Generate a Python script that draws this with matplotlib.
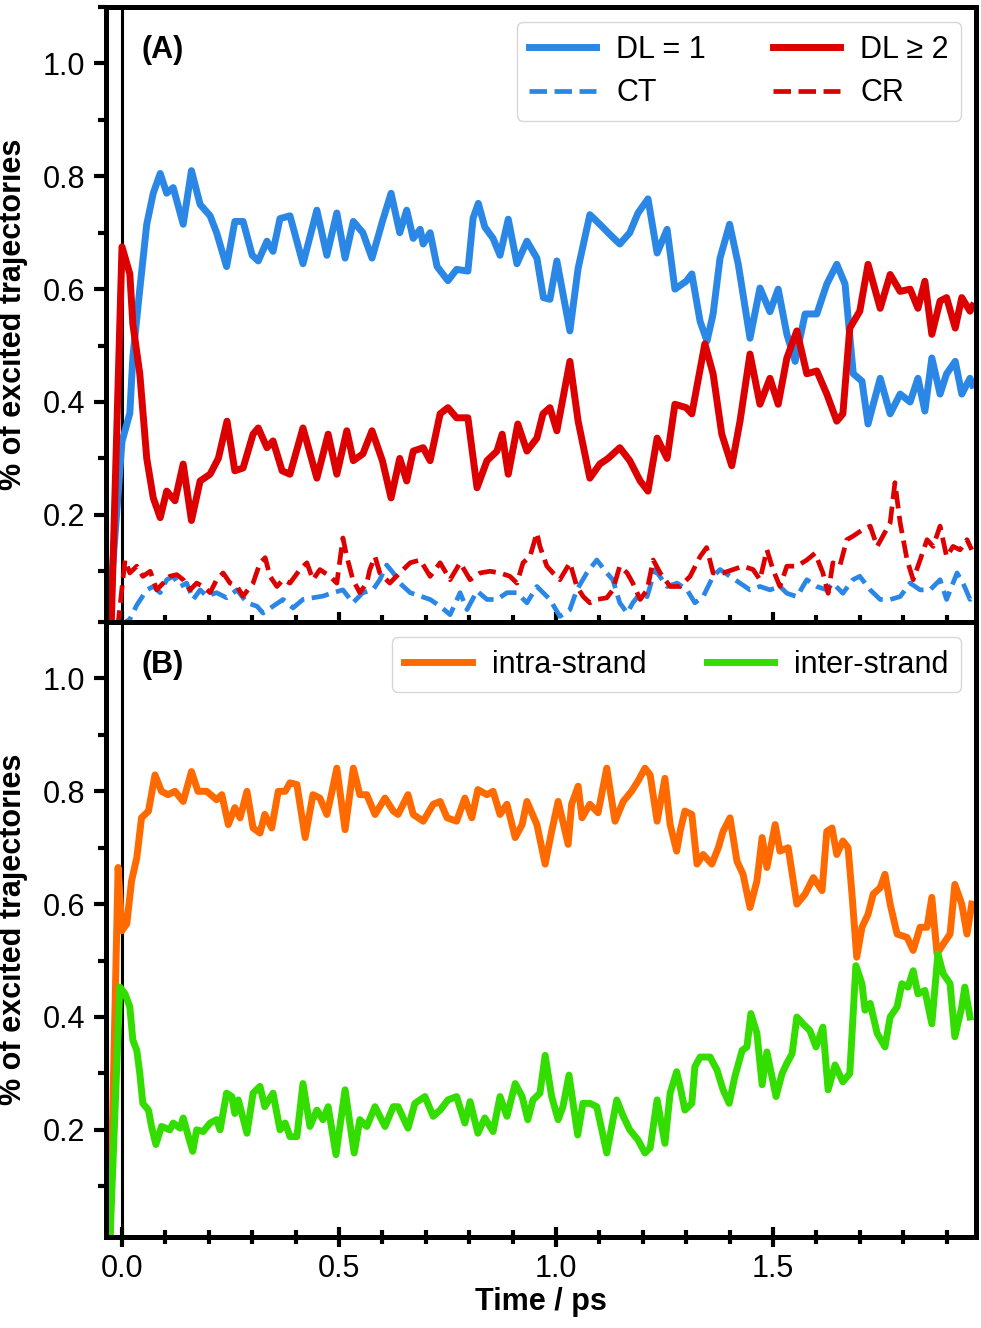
import numpy as np
import matplotlib
matplotlib.use("Agg")
import matplotlib.pyplot as plt
from matplotlib.ticker import MultipleLocator

# (time / ps, fraction)
dl1_pts = [(-0.032, 0.0), (0.0, 0.33), (0.018, 0.38), (0.025, 0.48), (0.041, 0.60), (0.057, 0.715),
           (0.072, 0.77), (0.088, 0.805), (0.103, 0.77), (0.118, 0.78), (0.141, 0.715), (0.16, 0.81),
           (0.18, 0.75), (0.203, 0.73), (0.218, 0.70), (0.241, 0.64), (0.26, 0.72), (0.279, 0.72),
           (0.30, 0.66), (0.314, 0.65), (0.334, 0.685), (0.348, 0.667), (0.364, 0.725), (0.387, 0.73),
           (0.417, 0.645), (0.449, 0.74), (0.472, 0.66), (0.495, 0.735), (0.514, 0.655), (0.533, 0.72),
           (0.555, 0.70), (0.576, 0.655), (0.60, 0.72), (0.62, 0.77), (0.64, 0.70), (0.656, 0.74),
           (0.671, 0.69), (0.687, 0.706), (0.694, 0.68), (0.71, 0.70), (0.726, 0.64), (0.751, 0.615),
           (0.771, 0.635), (0.797, 0.632), (0.809, 0.726), (0.821, 0.752), (0.836, 0.71), (0.855, 0.69),
           (0.871, 0.66), (0.89, 0.724), (0.91, 0.645), (0.933, 0.685), (0.956, 0.655), (0.971, 0.585),
           (0.986, 0.582), (1.002, 0.65), (1.032, 0.526), (1.051, 0.637), (1.078, 0.732), (1.101, 0.715),
           (1.124, 0.697), (1.147, 0.68), (1.17, 0.70), (1.189, 0.735), (1.212, 0.76), (1.233, 0.664),
           (1.256, 0.706), (1.274, 0.60), (1.30, 0.614), (1.313, 0.627), (1.332, 0.543), (1.348, 0.508),
           (1.362, 0.556), (1.378, 0.655), (1.40, 0.715), (1.42, 0.644), (1.447, 0.513), (1.47, 0.602),
           (1.493, 0.56), (1.512, 0.60), (1.532, 0.52), (1.551, 0.472), (1.574, 0.556), (1.601, 0.556),
           (1.624, 0.609), (1.647, 0.644), (1.666, 0.609), (1.685, 0.45), (1.705, 0.437), (1.719, 0.361),
           (1.747, 0.442), (1.77, 0.379), (1.793, 0.414), (1.816, 0.40), (1.834, 0.442), (1.85, 0.384),
           (1.866, 0.478), (1.885, 0.414), (1.90, 0.45), (1.92, 0.472), (1.935, 0.414), (1.954, 0.442),
           (1.96, 0.43)]

dl2_pts = [(-0.025, 0.0), (0.0, 0.675), (0.018, 0.627), (0.025, 0.538), (0.041, 0.45), (0.057, 0.30),
           (0.072, 0.23), (0.088, 0.195), (0.103, 0.242), (0.122, 0.225), (0.141, 0.29), (0.16, 0.19),
           (0.18, 0.26), (0.203, 0.272), (0.222, 0.30), (0.242, 0.366), (0.26, 0.278), (0.279, 0.283),
           (0.302, 0.343), (0.314, 0.354), (0.334, 0.319), (0.348, 0.331), (0.369, 0.278), (0.387, 0.272),
           (0.417, 0.354), (0.449, 0.265), (0.475, 0.343), (0.495, 0.272), (0.518, 0.349), (0.533, 0.296),
           (0.555, 0.308), (0.576, 0.349), (0.60, 0.296), (0.62, 0.23), (0.64, 0.30), (0.656, 0.26),
           (0.671, 0.313), (0.694, 0.319), (0.71, 0.296), (0.733, 0.379), (0.751, 0.39), (0.771, 0.372),
           (0.797, 0.372), (0.818, 0.248), (0.841, 0.296), (0.864, 0.313), (0.876, 0.343), (0.89, 0.272),
           (0.912, 0.361), (0.933, 0.313), (0.956, 0.336), (0.97, 0.379), (0.986, 0.39), (1.002, 0.349),
           (1.032, 0.472), (1.051, 0.366), (1.078, 0.265), (1.101, 0.29), (1.12, 0.30), (1.147, 0.319),
           (1.17, 0.296), (1.194, 0.26), (1.212, 0.242), (1.233, 0.336), (1.256, 0.30), (1.274, 0.396),
           (1.30, 0.39), (1.313, 0.379), (1.343, 0.503), (1.362, 0.45), (1.382, 0.343), (1.405, 0.287),
           (1.424, 0.366), (1.447, 0.485), (1.47, 0.396), (1.493, 0.442), (1.512, 0.396), (1.532, 0.478),
           (1.555, 0.526), (1.578, 0.45), (1.601, 0.455), (1.624, 0.414), (1.647, 0.366), (1.661, 0.379),
           (1.677, 0.531), (1.70, 0.561), (1.719, 0.644), (1.747, 0.566), (1.77, 0.626), (1.793, 0.596),
           (1.816, 0.60), (1.834, 0.566), (1.85, 0.614), (1.866, 0.52), (1.885, 0.579), (1.90, 0.585),
           (1.92, 0.531), (1.935, 0.585), (1.954, 0.561), (1.96, 0.57)]

ct_pts = [(-0.01, 0.0), (0.018, 0.015), (0.034, 0.04), (0.057, 0.067), (0.072, 0.073), (0.088, 0.062),
          (0.103, 0.085), (0.118, 0.091), (0.134, 0.073), (0.149, 0.079), (0.164, 0.05), (0.18, 0.067),
          (0.195, 0.056), (0.218, 0.062), (0.241, 0.053), (0.265, 0.067), (0.288, 0.044), (0.311, 0.038),
          (0.325, 0.026), (0.348, 0.038), (0.371, 0.05), (0.394, 0.035), (0.417, 0.05), (0.44, 0.053),
          (0.463, 0.056), (0.486, 0.062), (0.509, 0.067), (0.532, 0.044), (0.555, 0.062), (0.578, 0.067),
          (0.594, 0.085), (0.61, 0.111), (0.625, 0.097), (0.64, 0.079), (0.664, 0.062), (0.687, 0.056),
          (0.71, 0.05), (0.733, 0.038), (0.756, 0.023), (0.779, 0.062), (0.795, 0.032), (0.818, 0.065),
          (0.841, 0.05), (0.864, 0.05), (0.887, 0.062), (0.91, 0.062), (0.933, 0.044), (0.956, 0.073),
          (0.986, 0.05), (1.009, 0.02), (1.032, 0.032), (1.048, 0.067), (1.071, 0.097), (1.094, 0.12),
          (1.117, 0.097), (1.131, 0.085), (1.147, 0.044), (1.164, 0.026), (1.177, 0.044), (1.194, 0.061),
          (1.21, 0.055), (1.228, 0.103), (1.256, 0.073), (1.279, 0.079), (1.302, 0.067), (1.32, 0.044),
          (1.339, 0.055), (1.362, 0.091), (1.378, 0.103), (1.401, 0.091), (1.424, 0.079), (1.447, 0.067),
          (1.47, 0.073), (1.493, 0.067), (1.516, 0.073), (1.532, 0.061), (1.555, 0.055), (1.578, 0.085),
          (1.601, 0.073), (1.624, 0.067), (1.638, 0.079), (1.661, 0.061), (1.684, 0.085), (1.70, 0.091),
          (1.724, 0.067), (1.747, 0.05), (1.77, 0.05), (1.793, 0.055), (1.816, 0.079), (1.839, 0.067),
          (1.862, 0.067), (1.885, 0.085), (1.90, 0.05), (1.924, 0.097), (1.938, 0.079), (1.954, 0.05),
          (1.96, 0.06)]

cr_pts = [(-0.01, 0.0), (0.007, 0.12), (0.018, 0.097), (0.034, 0.109), (0.048, 0.091), (0.065, 0.1),
          (0.08, 0.067), (0.095, 0.079), (0.11, 0.091), (0.126, 0.094), (0.141, 0.085), (0.157, 0.067),
          (0.172, 0.079), (0.187, 0.073), (0.203, 0.062), (0.218, 0.085), (0.233, 0.097), (0.249, 0.079),
          (0.265, 0.073), (0.279, 0.056), (0.302, 0.079), (0.318, 0.115), (0.33, 0.124), (0.341, 0.091),
          (0.357, 0.073), (0.371, 0.085), (0.387, 0.079), (0.41, 0.103), (0.426, 0.115), (0.44, 0.085),
          (0.456, 0.103), (0.479, 0.091), (0.495, 0.079), (0.509, 0.159), (0.518, 0.126), (0.532, 0.085),
          (0.548, 0.062), (0.564, 0.079), (0.571, 0.103), (0.583, 0.126), (0.594, 0.097), (0.617, 0.079),
          (0.64, 0.097), (0.664, 0.115), (0.687, 0.12), (0.71, 0.091), (0.733, 0.115), (0.756, 0.085),
          (0.779, 0.115), (0.802, 0.085), (0.825, 0.097), (0.848, 0.1), (0.871, 0.097), (0.894, 0.091),
          (0.91, 0.079), (0.924, 0.115), (0.94, 0.126), (0.956, 0.168), (0.963, 0.144), (0.979, 0.109),
          (0.993, 0.097), (1.009, 0.085), (1.032, 0.115), (1.048, 0.073), (1.063, 0.055), (1.078, 0.044),
          (1.094, 0.05), (1.117, 0.053), (1.131, 0.067), (1.147, 0.109), (1.164, 0.097), (1.177, 0.079),
          (1.194, 0.05), (1.21, 0.067), (1.224, 0.12), (1.24, 0.097), (1.263, 0.073), (1.286, 0.073),
          (1.309, 0.091), (1.332, 0.126), (1.347, 0.142), (1.362, 0.097), (1.385, 0.097), (1.408, 0.103),
          (1.431, 0.109), (1.454, 0.103), (1.47, 0.085), (1.486, 0.138), (1.50, 0.103), (1.516, 0.073),
          (1.532, 0.109), (1.555, 0.109), (1.578, 0.12), (1.597, 0.132), (1.615, 0.097), (1.627, 0.061),
          (1.638, 0.115), (1.654, 0.109), (1.67, 0.156), (1.684, 0.162), (1.707, 0.174), (1.724, 0.18),
          (1.74, 0.144), (1.753, 0.162), (1.77, 0.186), (1.781, 0.257), (1.793, 0.186), (1.809, 0.12),
          (1.823, 0.085), (1.839, 0.12), (1.855, 0.156), (1.869, 0.144), (1.885, 0.18), (1.90, 0.126),
          (1.915, 0.144), (1.931, 0.138), (1.947, 0.156), (1.958, 0.138)]

intra_pts = [(-0.028, 0.0), (-0.009, 0.665), (0.0, 0.553), (0.011, 0.565), (0.022, 0.641), (0.034, 0.682),
             (0.045, 0.753), (0.061, 0.765), (0.076, 0.829), (0.091, 0.8), (0.106, 0.794), (0.122, 0.8),
             (0.141, 0.782), (0.16, 0.835), (0.175, 0.8), (0.195, 0.8), (0.218, 0.785), (0.23, 0.794),
             (0.245, 0.741), (0.26, 0.771), (0.272, 0.753), (0.288, 0.8), (0.302, 0.735), (0.318, 0.726),
             (0.329, 0.759), (0.345, 0.735), (0.36, 0.8), (0.376, 0.8), (0.387, 0.815), (0.403, 0.812),
             (0.422, 0.718), (0.44, 0.794), (0.456, 0.788), (0.472, 0.759), (0.484, 0.8), (0.495, 0.841),
             (0.514, 0.732), (0.533, 0.841), (0.548, 0.794), (0.564, 0.794), (0.583, 0.759), (0.606, 0.788),
             (0.625, 0.765), (0.636, 0.759), (0.659, 0.794), (0.671, 0.759), (0.694, 0.747), (0.717, 0.777),
             (0.733, 0.782), (0.749, 0.753), (0.771, 0.747), (0.79, 0.788), (0.806, 0.753), (0.82, 0.803),
             (0.841, 0.794), (0.855, 0.8), (0.871, 0.759), (0.887, 0.777), (0.906, 0.718), (0.922, 0.741),
             (0.933, 0.782), (0.956, 0.741), (0.975, 0.671), (0.99, 0.729), (1.005, 0.782), (1.028, 0.706),
             (1.036, 0.777), (1.051, 0.809), (1.06, 0.753), (1.078, 0.777), (1.097, 0.762), (1.117, 0.841),
             (1.136, 0.747), (1.155, 0.782), (1.174, 0.8), (1.189, 0.818), (1.205, 0.841), (1.217, 0.829),
             (1.233, 0.747), (1.251, 0.823), (1.263, 0.741), (1.278, 0.694), (1.286, 0.729), (1.297, 0.765),
             (1.313, 0.759), (1.325, 0.671), (1.339, 0.688), (1.359, 0.671), (1.374, 0.70), (1.385, 0.729),
             (1.401, 0.753), (1.417, 0.676), (1.431, 0.653), (1.447, 0.594), (1.463, 0.641), (1.475, 0.718),
             (1.486, 0.665), (1.505, 0.741), (1.516, 0.694), (1.535, 0.70), (1.555, 0.60), (1.574, 0.618),
             (1.593, 0.647), (1.613, 0.624), (1.624, 0.729), (1.636, 0.735), (1.647, 0.688), (1.661, 0.712),
             (1.673, 0.70), (1.682, 0.618), (1.693, 0.506), (1.705, 0.559), (1.719, 0.582), (1.731, 0.618),
             (1.747, 0.629), (1.758, 0.653), (1.77, 0.60), (1.786, 0.547), (1.809, 0.541), (1.823, 0.518),
             (1.839, 0.559), (1.855, 0.559), (1.866, 0.612), (1.878, 0.512), (1.892, 0.529), (1.908, 0.547),
             (1.919, 0.635), (1.935, 0.60), (1.947, 0.547), (1.958, 0.60)]

inter_pts = [(-0.028, 0.0), (-0.005, 0.453), (0.007, 0.441), (0.018, 0.418), (0.025, 0.359), (0.034, 0.341),
             (0.041, 0.30), (0.048, 0.247), (0.061, 0.235), (0.068, 0.206), (0.078, 0.174), (0.091, 0.206),
             (0.11, 0.20), (0.118, 0.212), (0.134, 0.203), (0.141, 0.221), (0.153, 0.188), (0.163, 0.162),
             (0.172, 0.20), (0.187, 0.197), (0.203, 0.212), (0.218, 0.218), (0.226, 0.20), (0.241, 0.265),
             (0.253, 0.259), (0.26, 0.229), (0.268, 0.253), (0.288, 0.194), (0.302, 0.265), (0.318, 0.277),
             (0.329, 0.241), (0.348, 0.265), (0.364, 0.20), (0.376, 0.212), (0.387, 0.188), (0.403, 0.188),
             (0.417, 0.282), (0.433, 0.206), (0.449, 0.235), (0.463, 0.218), (0.475, 0.241), (0.493, 0.156),
             (0.514, 0.271), (0.535, 0.159), (0.548, 0.218), (0.564, 0.206), (0.583, 0.241), (0.606, 0.206),
             (0.625, 0.241), (0.636, 0.241), (0.659, 0.203), (0.675, 0.247), (0.698, 0.259), (0.717, 0.224),
             (0.733, 0.235), (0.751, 0.253), (0.771, 0.259), (0.79, 0.212), (0.802, 0.25), (0.82, 0.194),
             (0.836, 0.221), (0.855, 0.197), (0.871, 0.259), (0.887, 0.224), (0.906, 0.282), (0.922, 0.259),
             (0.935, 0.218), (0.947, 0.253), (0.963, 0.265), (0.975, 0.332), (0.99, 0.259), (1.005, 0.218),
             (1.016, 0.241), (1.03, 0.297), (1.05, 0.191), (1.062, 0.247), (1.078, 0.247), (1.094, 0.241),
             (1.117, 0.159), (1.14, 0.253), (1.155, 0.224), (1.17, 0.20), (1.189, 0.182), (1.205, 0.159),
             (1.217, 0.168), (1.233, 0.253), (1.251, 0.176), (1.263, 0.265), (1.278, 0.303), (1.286, 0.277),
             (1.297, 0.235), (1.313, 0.247), (1.32, 0.312), (1.332, 0.329), (1.355, 0.329), (1.371, 0.306),
             (1.385, 0.271), (1.399, 0.247), (1.412, 0.294), (1.429, 0.341), (1.44, 0.347), (1.449, 0.406),
             (1.463, 0.371), (1.475, 0.28), (1.486, 0.338), (1.507, 0.259), (1.521, 0.30), (1.532, 0.318),
             (1.544, 0.335), (1.555, 0.40), (1.569, 0.388), (1.585, 0.376), (1.599, 0.347), (1.615, 0.382),
             (1.627, 0.271), (1.643, 0.315), (1.661, 0.285), (1.677, 0.30), (1.691, 0.491), (1.705, 0.459),
             (1.712, 0.412), (1.724, 0.424), (1.74, 0.371), (1.758, 0.347), (1.77, 0.40), (1.786, 0.418),
             (1.797, 0.459), (1.811, 0.453), (1.823, 0.482), (1.834, 0.441), (1.85, 0.447), (1.866, 0.388),
             (1.88, 0.512), (1.892, 0.477), (1.908, 0.459), (1.919, 0.365), (1.935, 0.418), (1.942, 0.453),
             (1.954, 0.40)]

BLUE = '#2a87e6'
RED = '#dd0000'
ORANGE = '#ff6a00'
GREEN = '#33dd00'

plt.rcParams['font.family'] = ['Liberation Sans', 'DejaVu Sans']


def xy(pts):
    a = np.array(pts)
    return a[:, 0], a[:, 1]


def style_axes(ax, letter):
    ax.set_xlim(-0.037, 1.968)
    ax.set_ylim(0.01, 1.1)
    ax.axvline(0.0, color='black', lw=2.2, zorder=1)
    for sp in ax.spines.values():
        sp.set_linewidth(3.6)
    ax.xaxis.set_major_locator(MultipleLocator(0.5))
    ax.xaxis.set_minor_locator(MultipleLocator(0.1))
    ax.yaxis.set_major_locator(MultipleLocator(0.2))
    ax.yaxis.set_minor_locator(MultipleLocator(0.1))
    ax.tick_params(axis='y', which='major', direction='out', length=9, width=3, labelsize=22, pad=6)
    ax.tick_params(axis='y', which='minor', direction='out', length=5.5, width=3)
    ax.tick_params(axis='x', which='major', direction='inout', length=15, width=3, labelsize=22, pad=5)
    ax.tick_params(axis='x', which='minor', direction='inout', length=10.5, width=3)
    ax.set_ylabel('% of excited trajectories', fontsize=22, fontweight='bold')
    ax.yaxis.set_label_coords(-0.09, 0.5)
    ax.text(0.041, 0.93, letter, transform=ax.transAxes, fontsize=22,
            fontweight='bold', va='center', ha='left')


fig, (ax1, ax2) = plt.subplots(2, 1, sharex=True, figsize=(9.81, 13.28), dpi=100)
fig.subplots_adjust(left=0.108, right=0.995, top=0.9947, bottom=0.0685, hspace=0)

# panel A
t, y = xy(dl1_pts)
ax1.plot(t, y, color=BLUE, lw=5, label='DL = 1')
t, y = xy(ct_pts)
ax1.plot(t, y, color=BLUE, lw=3.4, ls='--', label='CT')
t, y = xy(dl2_pts)
ax1.plot(t, y, color=RED, lw=5, label='DL \u2265 2')
t, y = xy(cr_pts)
ax1.plot(t, y, color=RED, lw=3.4, ls='--', label='CR')
style_axes(ax1, '(A)')
ax1.tick_params(axis='x', labelbottom=False)
ax1.legend(ncol=2, loc='upper right', fontsize=22, handlelength=2.2, handletextpad=0.65,
           columnspacing=2.2, labelspacing=0.45)

# panel B
t, y = xy(intra_pts)
ax2.plot(t, y, color=ORANGE, lw=5, label='intra-strand')
t, y = xy(inter_pts)
ax2.plot(t, y, color=GREEN, lw=5, label='inter-strand')
style_axes(ax2, '(B)')
ax2.set_xlabel('Time / ps', fontsize=22, fontweight='bold', labelpad=2)
ax2.legend(ncol=2, loc='upper right', fontsize=22, handlelength=2.2, handletextpad=0.65,
           columnspacing=2.0)

fig.savefig('out.png', dpi=100)
